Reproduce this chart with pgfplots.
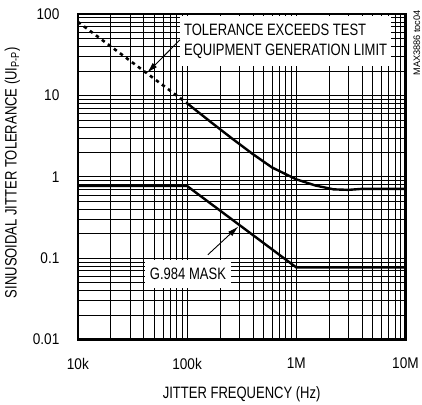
\documentclass[border=0pt]{standalone}
\usepackage{fontspec}
\setmainfont{Liberation Sans}[FakeStretch=0.79]
\newfontfamily\tickfont{Liberation Sans}[FakeStretch=0.88]
\newfontfamily\notefont{Liberation Sans}[FakeStretch=0.97]
\usepackage{pgfplots}
\pgfplotsset{compat=1.18}
\usetikzlibrary{arrows.meta}

\begin{document}
\begin{tikzpicture}
\begin{axis}[
  xmode=log, ymode=log,
  scale only axis,
  width=328pt, height=326pt,
  xmin=1e4, xmax=1e7,
  ymin=0.01, ymax=100,
  xtick={1e4,1e5,1e6,1e7},
  xticklabels={10k,100k,1M,10M},
  ytick={0.01,0.1,1,10,100},
  yticklabels={0.01,0.1,1,10,100},
  major tick length=0pt, minor tick length=0pt,
  grid=both,
  major grid style={black, line width=0.7pt},
  minor grid style={black, line width=0.6pt},
  axis line style={line width=2.6pt},
  tick label style={font=\tickfont\fontsize{15.5}{18}\selectfont},
  xticklabel style={yshift=-15pt},
  yticklabel style={xshift=-15pt},
  label style={font=\fontsize{16.5}{18}\selectfont},
  xlabel={JITTER FREQUENCY (Hz)},
  ylabel={SINUSOIDAL JITTER TOLERANCE (UI\textsubscript{P-P})},
  xlabel style={yshift=-10pt},
  ylabel style={xshift=4pt, yshift=6pt},
  clip=false,
]
% tolerance beyond test equipment limit
\addplot[black, line width=2.6pt, dash pattern=on 3.5pt off 4pt] coordinates {
  (1e4,80) (1e5,8)
};
% measured tolerance
\addplot[black, line width=2.4pt] coordinates {
  (1e5,8) (1.65e5,4.7) (2.5e5,3.05) (4e5,1.9) (6e5,1.3) (1e6,0.93)
  (1.5e6,0.78) (2.2e6,0.70) (3e6,0.69) (4e6,0.71) (1e7,0.71)
};
% G.984 mask
\addplot[black, line width=2.4pt] coordinates {
  (1e4,0.77) (1e5,0.77) (1e6,0.077) (1e7,0.077)
};

\node[fill=white, anchor=north west, align=left, inner xsep=4pt, inner ysep=8pt,
      font=\fontsize{16.5}{20}\selectfont]
  at (axis cs:8.6e4,96) {TOLERANCE EXCEEDS TEST\\EQUIPMENT GENERATION LIMIT};
\draw[line width=0.9pt, -{Latex[length=11pt,width=6pt]}]
  (axis cs:8.6e4,48) -- (axis cs:4.3e4,18.9);

\node[fill=white, anchor=west, inner xsep=5pt, inner ysep=8pt,
      font=\fontsize{16.5}{18}\selectfont]
  at (axis cs:4.1e4,0.0637) {G.984 MASK};
\draw[line width=0.9pt, -{Latex[length=11pt,width=6pt]}]
  (axis cs:1.55e5,0.11) -- (axis cs:2.95e5,0.245);

\node[rotate=90, anchor=north east, inner sep=0pt,
      font=\notefont\fontsize{9.5}{10}\selectfont]
  at ([xshift=8pt, yshift=4pt]rel axis cs:1,1) {MAX3886 toc04};
\end{axis}
\path ([shift={(-78pt,-62pt)}]current axis.south west) rectangle
      ([shift={(16pt,14pt)}]current axis.north east);
\end{tikzpicture}
\end{document}
